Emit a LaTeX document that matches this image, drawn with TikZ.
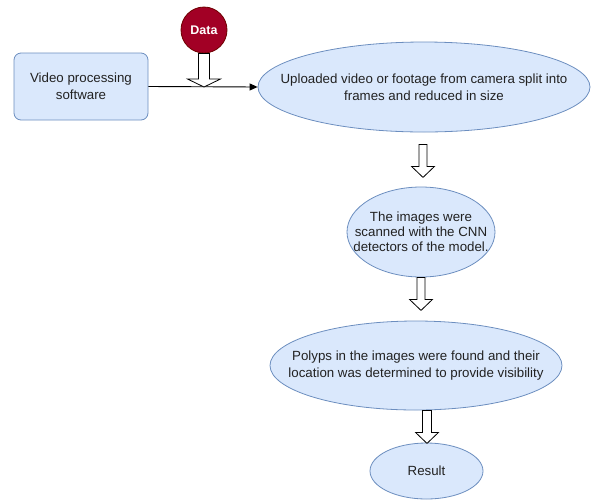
\documentclass[tikz,border=0pt]{standalone}
\usepackage{fontspec}
\setmainfont{Liberation Sans}
\usetikzlibrary{calc,arrows.meta,shapes.geometric}
\definecolor{boxfill}{HTML}{DAE8FC}
\definecolor{boxline}{HTML}{6C8EBF}
\definecolor{datafill}{HTML}{A20025}
\definecolor{dataline}{HTML}{6F0000}
\definecolor{txt}{HTML}{222222}
\tikzset{
  blue shape/.style={fill=boxfill, draw=boxline, line width=0.8pt, inner sep=0pt},
  label text/.style={text=txt, align=center, inner sep=0pt, font=\fontsize{13.3}{16.7}\selectfont},
  hollow/.style={fill=white, draw=black, line width=0.8pt, line join=miter},
}
\newcommand{\harrow}[5]{%
  \draw[hollow] let \p1=(#1), \p2=(#2) in
    (\x1-#3/2,\y1) -- (\x1-#3/2,\y2+#5) -- (\x1-#4/2,\y2+#5) -- (\x1,\y2)
    -- (\x1+#4/2,\y2+#5) -- (\x1+#3/2,\y2+#5) -- (\x1+#3/2,\y1) -- cycle;}
\begin{document}
\begin{tikzpicture}[x=1pt,y=-1pt]
\useasboundingbox (0,0) rectangle (592,499);
\node[blue shape, rounded corners=7pt, minimum width=134pt, minimum height=67pt] (vps) at (81,86.5) {};
\node[label text] at (vps) {Video processing\\software};
\node[circle, fill=datafill, draw=dataline, line width=0.8pt, minimum size=46pt, inner sep=0pt, text=white,
  font=\fontsize{12.5}{14}\selectfont\bfseries] (data) at (204,30) {Data};
\node[blue shape, ellipse, minimum width=332pt, minimum height=90pt] (e1) at (424,87) {};
\node[label text] at (e1) {Uploaded video or footage from camera split into\\frames and reduced in size};
\node[blue shape, ellipse, minimum width=148pt, minimum height=90pt] (e2) at (421,232) {};
\node[label text, font=\fontsize{13.3}{15}\selectfont] at (e2) {The images were\\scanned with the CNN\\detectors of the model.};
\node[blue shape, ellipse, minimum width=292pt, minimum height=89pt] (e3) at (416,365.5) {};
\node[label text] at (e3) {Polyps in the images were found and their\\location was determined to provide visibility};
\node[blue shape, ellipse, minimum width=113pt, minimum height=56pt] (e4) at (426.5,471) {};
\node[label text] at (e4) {Result};
% connectors
\draw[-{Triangle[length=8pt,width=7pt]}, line width=0.9pt] (vps.east) -- (e1.west);
\coordinate (d0) at (data.south);
\coordinate (d1) at (204,87);
\harrow{d0}{d1}{11pt}{33pt}{8pt}
\coordinate (a0) at ($(e1.south)+(-1,12)$);
\coordinate (a1) at ($(e1.south)+(-1,45)$);
\harrow{a0}{a1}{8pt}{23pt}{11pt}
\coordinate (b0) at ($(e2.south)+(0,0)$);
\coordinate (b1) at ($(e2.south)+(0,33)$);
\harrow{b0}{b1}{8pt}{23pt}{11pt}
\coordinate (c0) at ($(e3.south)+(11,0)$);
\coordinate (c1) at ($(e3.south)+(11,33)$);
\harrow{c0}{c1}{9pt}{23pt}{11pt}
\end{tikzpicture}
\end{document}
